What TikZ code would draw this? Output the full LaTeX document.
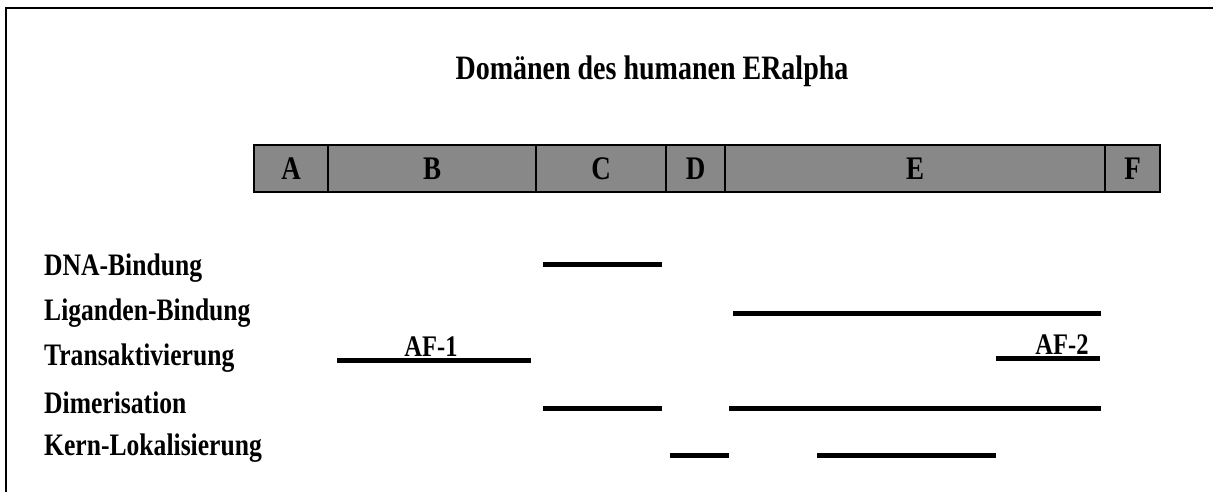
\documentclass[tikz,border=0pt]{standalone}
\usepackage{fontspec}
\setmainfont{Liberation Serif}
\definecolor{domgray}{RGB}{136,136,136}
% slightly tall lettering
\newcommand{\talltext}[1]{\scalebox{1}[1.22]{#1}}
\begin{document}
\begin{tikzpicture}[x=1pt,y=-1pt,
  seg/.style={draw=black, fill=domgray, line width=2.8pt, minimum height=47pt,
    inner sep=0pt, outer sep=0pt, anchor=north west,
    font=\fontsize{27}{27}\selectfont\bfseries},
  lbl/.style={anchor=west, inner sep=0pt, font=\fontsize{25.6}{26}\selectfont\bfseries},
  aflbl/.style={anchor=base, inner sep=0pt, font=\fontsize{24.5}{25}\selectfont\bfseries},
  span/.style={line width=5pt}]
\useasboundingbox (0,0) rectangle (1213,492);
% frame
\draw[line width=2.5pt] (6,492) -- (6,8) -- (1213,8);
% title
\node[inner sep=0pt, font=\fontsize{28}{28}\selectfont\bfseries] (title) at (652,71) {\talltext{Domänen des humanen ERalpha}};
% domain bar
\node[seg, minimum width=74pt]  (A) at (254,145) {\talltext{A}};
\node[seg, minimum width=208pt] (B) at (328,145) {\talltext{B}};
\node[seg, minimum width=130pt] (C) at (536,145) {\talltext{C}};
\node[seg, minimum width=59pt]  (D) at (666,145) {\talltext{D}};
\node[seg, minimum width=380pt] (E) at (725,145) {\talltext{E}};
\node[seg, minimum width=55pt]  (F) at (1105,145) {\talltext{F}};
% function labels
\node[lbl] (dna) at (44,268) {\talltext{DNA-Bindung}};
\node[lbl] (lig) at (44,313) {\talltext{Liganden-Bindung}};
\node[lbl] (tra) at (44,358) {\talltext{Transaktivierung}};
\node[lbl] (dim) at (44,403) {\talltext{Dimerisation}};
\node[lbl] (ker) at (44,448) {\talltext{Kern-Lokalisierung}};
% spans
\coordinate (dnaA) at (543,264); \coordinate (dnaB) at (662,264);
\coordinate (ligA) at (733,313); \coordinate (ligB) at (1101,313);
\coordinate (af1A) at (337,360); \coordinate (af1B) at (531,360);
\coordinate (af2A) at (996,358); \coordinate (af2B) at (1100,358);
\coordinate (dimA) at (543,408); \coordinate (dimB) at (662,408);
\coordinate (dimC) at (729,408); \coordinate (dimD) at (1101,408);
\coordinate (kerA) at (670,455); \coordinate (kerB) at (729,455);
\coordinate (kerC) at (817,455); \coordinate (kerD) at (996,455);
\draw[span] (dnaA) -- (dnaB);
\draw[span] (ligA) -- (ligB);
\draw[span] (af1A) -- (af1B);
\draw[span] (af2A) -- (af2B);
\draw[span] (dimA) -- (dimB);
\draw[span] (dimC) -- (dimD);
\draw[span] (kerA) -- (kerB);
\draw[span] (kerC) -- (kerD);
\node[aflbl] (af1) at (431,356) {\talltext{AF-1}};
\node[aflbl] (af2) at (1062,354) {\talltext{AF-2}};
\end{tikzpicture}
\end{document}
